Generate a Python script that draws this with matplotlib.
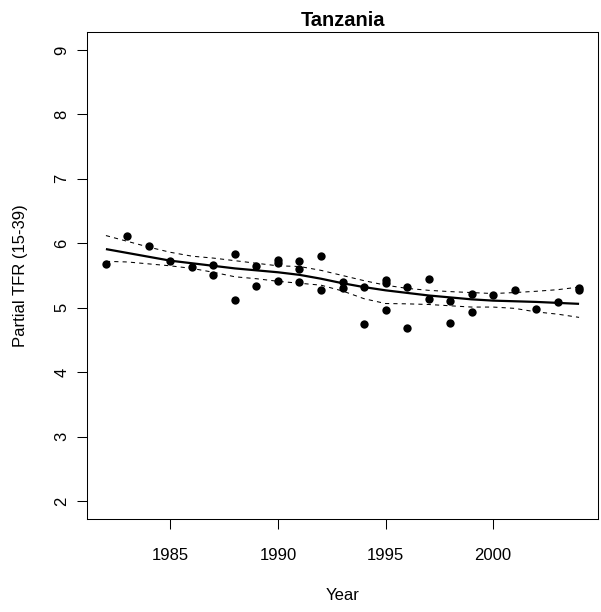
import matplotlib
matplotlib.use("Agg")
import matplotlib.pyplot as plt
import numpy as np

plt.rcParams['font.family'] = ['Liberation Sans', 'DejaVu Sans']

# Observed points
obs_year = [1982, 1983, 1984, 1985, 1986, 1987, 1987, 1988, 1988, 1989, 1989,
            1990, 1990, 1990, 1991, 1991, 1991, 1992, 1992,
            1993, 1993, 1994, 1994, 1995, 1995, 1995, 1996, 1996,
            1997, 1997, 1998, 1998, 1999, 1999, 2000, 2001, 2002, 2003,
            2004, 2004]
obs_tfr = [5.68, 6.12, 5.955, 5.72, 5.63, 5.67, 5.50, 5.84, 5.12, 5.64, 5.33,
           5.745, 5.70, 5.41, 5.73, 5.60, 5.40, 5.81, 5.28,
           5.40, 5.30, 5.32, 4.74, 5.425, 5.38, 4.97, 5.32, 4.69,
           5.445, 5.13, 5.105, 4.76, 5.22, 4.94, 5.20, 5.27, 4.98, 5.09,
           5.30, 5.27]

# Smoothed fit and confidence band
fit_year = list(range(1982, 2005))
fit_mid = [5.91, 5.85, 5.79, 5.73, 5.69, 5.65, 5.61, 5.58, 5.55, 5.51, 5.45,
           5.38, 5.32, 5.27, 5.23, 5.19, 5.16, 5.13, 5.11, 5.10, 5.09, 5.075, 5.06]
fit_upper = [6.12, 6.03, 5.94, 5.86, 5.80, 5.77, 5.73, 5.69, 5.65, 5.64, 5.58,
             5.50, 5.42, 5.35, 5.30, 5.27, 5.25, 5.235, 5.22, 5.235, 5.255, 5.28, 5.32]
fit_lower = [5.72, 5.71, 5.68, 5.65, 5.61, 5.55, 5.48, 5.45, 5.41, 5.38, 5.35,
             5.26, 5.14, 5.065, 5.06, 5.05, 5.03, 5.01, 5.01, 4.99, 4.935, 4.90, 4.85]

x_ticks = [1985, 1990, 1995, 2000]
y_ticks = [2, 3, 4, 5, 6, 7, 8, 9]

W, H = 601, 612
fig = plt.figure(figsize=(W / 100, H / 100), dpi=100)
ax = fig.add_axes([87 / W, 1 - 519 / H, (598 - 87) / W, (519 - 32) / H])

ax.plot(fit_year, fit_mid, color='black', lw=1.6, solid_capstyle='butt')
ax.plot(fit_year, fit_upper, color='black', lw=0.75, dashes=(4, 4))
ax.plot(fit_year, fit_lower, color='black', lw=0.75, dashes=(4, 4))
ax.plot(obs_year, obs_tfr, 'o', color='black', markersize=6, markeredgewidth=0)

ax.set_xlim(1981.12, 2004.88)
ax.set_ylim(1.72, 9.28)
ax.set_xticks(x_ticks)
ax.set_xticklabels([str(t) for t in x_ticks])
ax.set_yticks(y_ticks)
ax.set_yticklabels([str(t) for t in y_ticks])

for s in ax.spines.values():
    s.set_linewidth(0.75)
    s.set_color('black')

ax.tick_params(axis='both', direction='out', length=7.2, width=0.75,
               labelsize=12, colors='black')
ax.tick_params(axis='x', pad=13.5)
ax.tick_params(axis='y', pad=5.5)
for lab in ax.get_yticklabels():
    lab.set_rotation(90)
    lab.set_va('center')

fig.text(342.5 / W, 1 - 20 / H, 'Tanzania', ha='center', va='center',
         fontsize=14.4, fontweight='bold')
fig.text(342.5 / W, 1 - 596 / H, 'Year', ha='center', va='center', fontsize=12)
fig.text(21 / W, 1 - 275.5 / H, 'Partial TFR (15-39)', ha='center', va='center',
         rotation=90, fontsize=12)

fig.savefig('out.png', dpi=100)
